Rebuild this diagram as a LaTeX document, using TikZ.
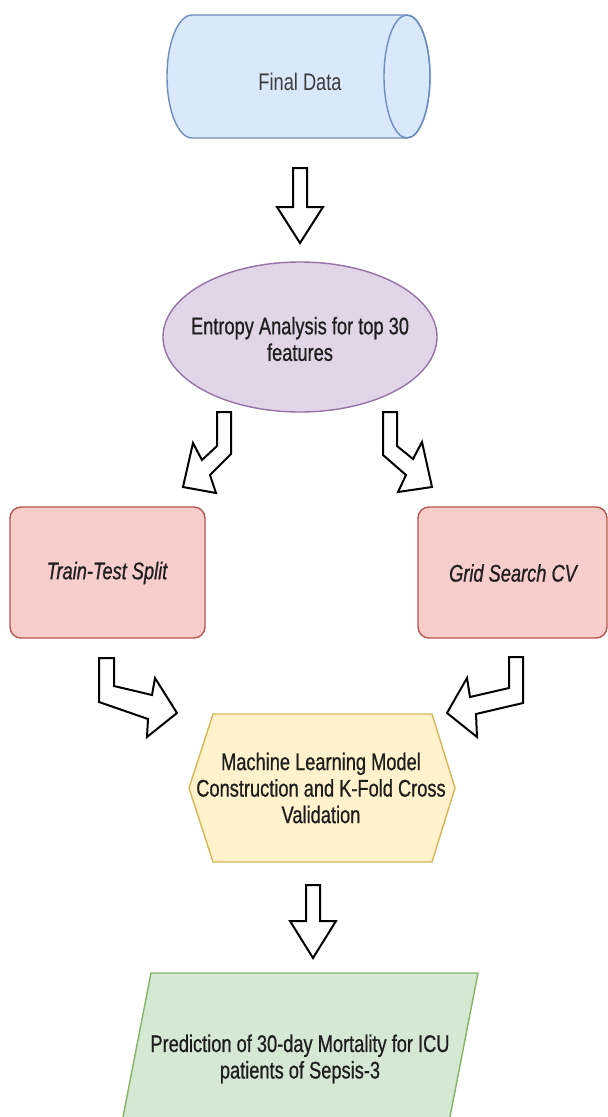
\documentclass[tikz,border=0pt]{standalone}
\usepackage{fontspec}
\setmainfont{Liberation Sans}
\newfontfamily\dfont[FakeStretch=0.76]{Liberation Sans}
\newfontfamily\bfont[FakeStretch=0.76,FakeBold=0.7]{Liberation Sans}
\usetikzlibrary{shapes.geometric}
\definecolor{blueF}{HTML}{DAE8FC}
\definecolor{blueS}{HTML}{6C8EBF}
\definecolor{purpF}{HTML}{E1D5E7}
\definecolor{purpS}{HTML}{9673A6}
\definecolor{redF}{HTML}{F8CECC}
\definecolor{redS}{HTML}{B85450}
\definecolor{yelF}{HTML}{FFF2CC}
\definecolor{yelS}{HTML}{D6B656}
\definecolor{grnF}{HTML}{D5E8D4}
\definecolor{grnS}{HTML}{82B366}
\definecolor{textc}{HTML}{1E1E1E}
\definecolor{textg}{HTML}{3C3C3C}
\begin{document}
\begin{tikzpicture}[x=1pt,y=-1pt,
  blockarrow/.style={draw=black, fill=white, line width=2pt, line join=miter},
  txt/.style={font=\bfont\fontsize{24}{26.5}\selectfont, text=textc, align=center, inner sep=0pt},
  itxt/.style={txt, font=\bfont\itshape\fontsize{24}{26.5}\selectfont},
  shapeline/.style={line width=1.4pt}]
\useasboundingbox (0,0) rectangle (608,1117);

% cylinder: Final Data
\path[fill=blueF, draw=blueS, shapeline] (407,15) -- (192,15)
  arc[start angle=270, end angle=90, x radius=25, y radius=61.5]
  -- (407,138)
  arc[start angle=90, end angle=-90, x radius=23, y radius=61.5] -- cycle;
\draw[blueS, shapeline] (407,76.5) ellipse[x radius=23, y radius=61.5];
\node[txt, font=\dfont\fontsize{24}{26.5}\selectfont, text=textg] (final) at (300,82) {Final Data};

% arrow 1
\draw[blockarrow] (293,168) -- (307,168) -- (307,207) -- (323,207) -- (300,243) -- (277,207) -- (293,207) -- cycle;

% ellipse
\node[ellipse, draw=purpS, fill=purpF, shapeline, minimum width=274pt, minimum height=150pt, inner sep=0pt] (entropy) at (300,337) {};
\node[txt] (entropyt) at (300,339) {Entropy Analysis for top 30\\features};

% left bent arrow
\draw[blockarrow] (217,412) -- (231,412) -- (231,454) -- (210,475) -- (216,493) -- (183,487) -- (193,443) -- (202,460) -- (217,446) -- cycle;
% right bent arrow
\draw[blockarrow] (383,412) -- (397,412) -- (397,446) -- (413,459) -- (422,442) -- (432,487) -- (398,492) -- (406,475) -- (383,455) -- cycle;

% rectangles
\node[draw=redS, fill=redF, shapeline, rounded corners=11pt, minimum width=195pt, minimum height=131pt, inner sep=0pt] (tts) at (107.5,572.5) {};
\node[itxt] (ttst) at (107,573) {Train-Test Split};
\node[draw=redS, fill=redF, shapeline, rounded corners=11pt, minimum width=189pt, minimum height=131pt, inner sep=0pt] (gs) at (512.5,572.5) {};
\node[itxt] (gst) at (513,573) {Grid Search CV};

% bottom-left bent arrow
\draw[blockarrow] (99,658) -- (114,658) -- (114,686) -- (152,695) -- (155,678) -- (177,713) -- (147,737) -- (148,719) -- (99,702) -- cycle;
% bottom-right bent arrow
\draw[blockarrow] (509,657) -- (523,657) -- (523,703) -- (476,714) -- (477,737) -- (447,713) -- (467,678) -- (470,697) -- (509,688) -- cycle;

% hexagon
\path[fill=yelF, draw=yelS, shapeline] (213,714) -- (432,714) -- (455,788) -- (432,862) -- (213,862) -- (189,788) -- cycle;
\node[txt] (ml) at (321,788) {Machine Learning Model\\Construction and K-Fold Cross\\Validation};

% arrow 4
\draw[blockarrow] (306,885) -- (320,885) -- (320,921) -- (336,921) -- (313,958) -- (290,921) -- (306,921) -- cycle;

% parallelogram
\path[fill=grnF, draw=grnS, shapeline] (151,973) -- (478,973) -- (449,1122) -- (122,1122) -- cycle;
\node[txt] (pred) at (300,1059) {Prediction of 30-day Mortality for ICU\\patients of Sepsis-3};
\end{tikzpicture}
\end{document}
